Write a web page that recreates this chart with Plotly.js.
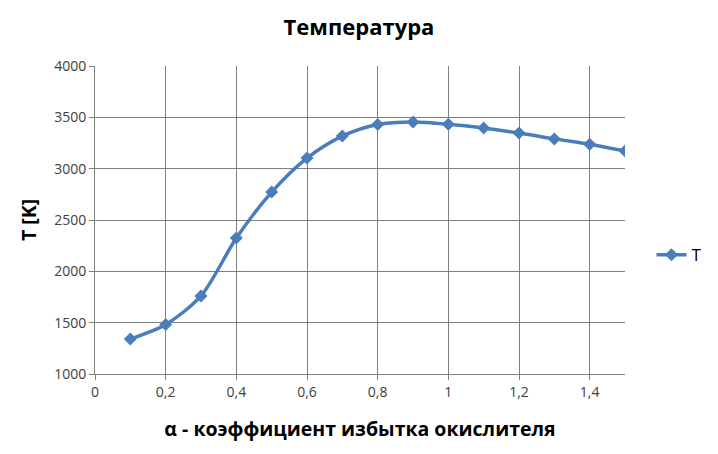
<!DOCTYPE html>
<html>
<head>
<meta charset="utf-8">
<script src="https://cdn.plot.ly/plotly-3.0.1.min.js"></script>
<style>
  html, body { margin: 0; padding: 0; background: #fff; }
  #chart { width: 718px; height: 454px; }
</style>
</head>
<body>
<div id="chart"></div>
<script>
const alpha = [0.1, 0.2, 0.3, 0.4, 0.5, 0.6, 0.7, 0.8, 0.9, 1.0, 1.1, 1.2, 1.3, 1.4, 1.5];
const temperature = [1340, 1482, 1760, 2324, 2772, 3103, 3317, 3430, 3454, 3432, 3395, 3347, 3290, 3238, 3172];

const lineColor = "#4a7ebb";
const gridColor = "#7f7f7f";
const textColor = "#404040";
const fontFamily = "Open Sans, Liberation Sans, sans-serif";

Plotly.newPlot(
  "chart",
  [{
    type: "scatter",
    mode: "lines+markers",
    name: "T",
    x: alpha,
    y: temperature,
    line: { color: lineColor, width: 3.5, shape: "spline", smoothing: 0.8 },
    marker: { symbol: "diamond", size: 10, color: lineColor },
  }],
  {
    width: 718,
    height: 454,
    paper_bgcolor: "#fff",
    plot_bgcolor: "#fff",
    separators: ", ",
    font: { family: fontFamily, color: textColor, size: 14 },
    margin: { l: 95, r: 93, t: 66, b: 80 },
    title: {
      text: "<b>Температура</b>",
      font: { family: fontFamily, size: 22, color: "#000" },
      x: 0.5,
      xanchor: "center",
      y: 0.957,
    },
    xaxis: {
      range: [0, 1.5],
      tickvals: [0, 0.2, 0.4, 0.6, 0.8, 1, 1.2, 1.4],
      showgrid: true,
      gridcolor: gridColor,
      gridwidth: 1,
      zeroline: false,
      showline: true,
      linecolor: gridColor,
      linewidth: 1,
      ticks: "outside",
      tickcolor: gridColor,
      ticklen: 5,
      title: {
        text: "<b>α - коэффициент избытка окислителя</b>",
        font: { family: fontFamily, size: 19.5, color: "#000" },
        standoff: 22,
      },
    },
    yaxis: {
      range: [1000, 4000],
      dtick: 500,
      showgrid: true,
      gridcolor: gridColor,
      gridwidth: 1,
      zeroline: false,
      showline: true,
      linecolor: gridColor,
      linewidth: 1,
      ticks: "outside",
      tickcolor: gridColor,
      ticklen: 5,
      title: {
        text: "<b>T [K]</b>",
        font: { family: fontFamily, size: 19.5, color: "#000" },
        standoff: 12,
      },
    },
    showlegend: true,
    legend: {
      x: 1.05,
      y: 0.386,
      xanchor: "left",
      yanchor: "middle",
      font: { family: fontFamily, size: 17, color: "#000" },
      itemwidth: 30,
    },
  },
  { displayModeBar: false, staticPlot: true }
);
</script>
</body>
</html>
